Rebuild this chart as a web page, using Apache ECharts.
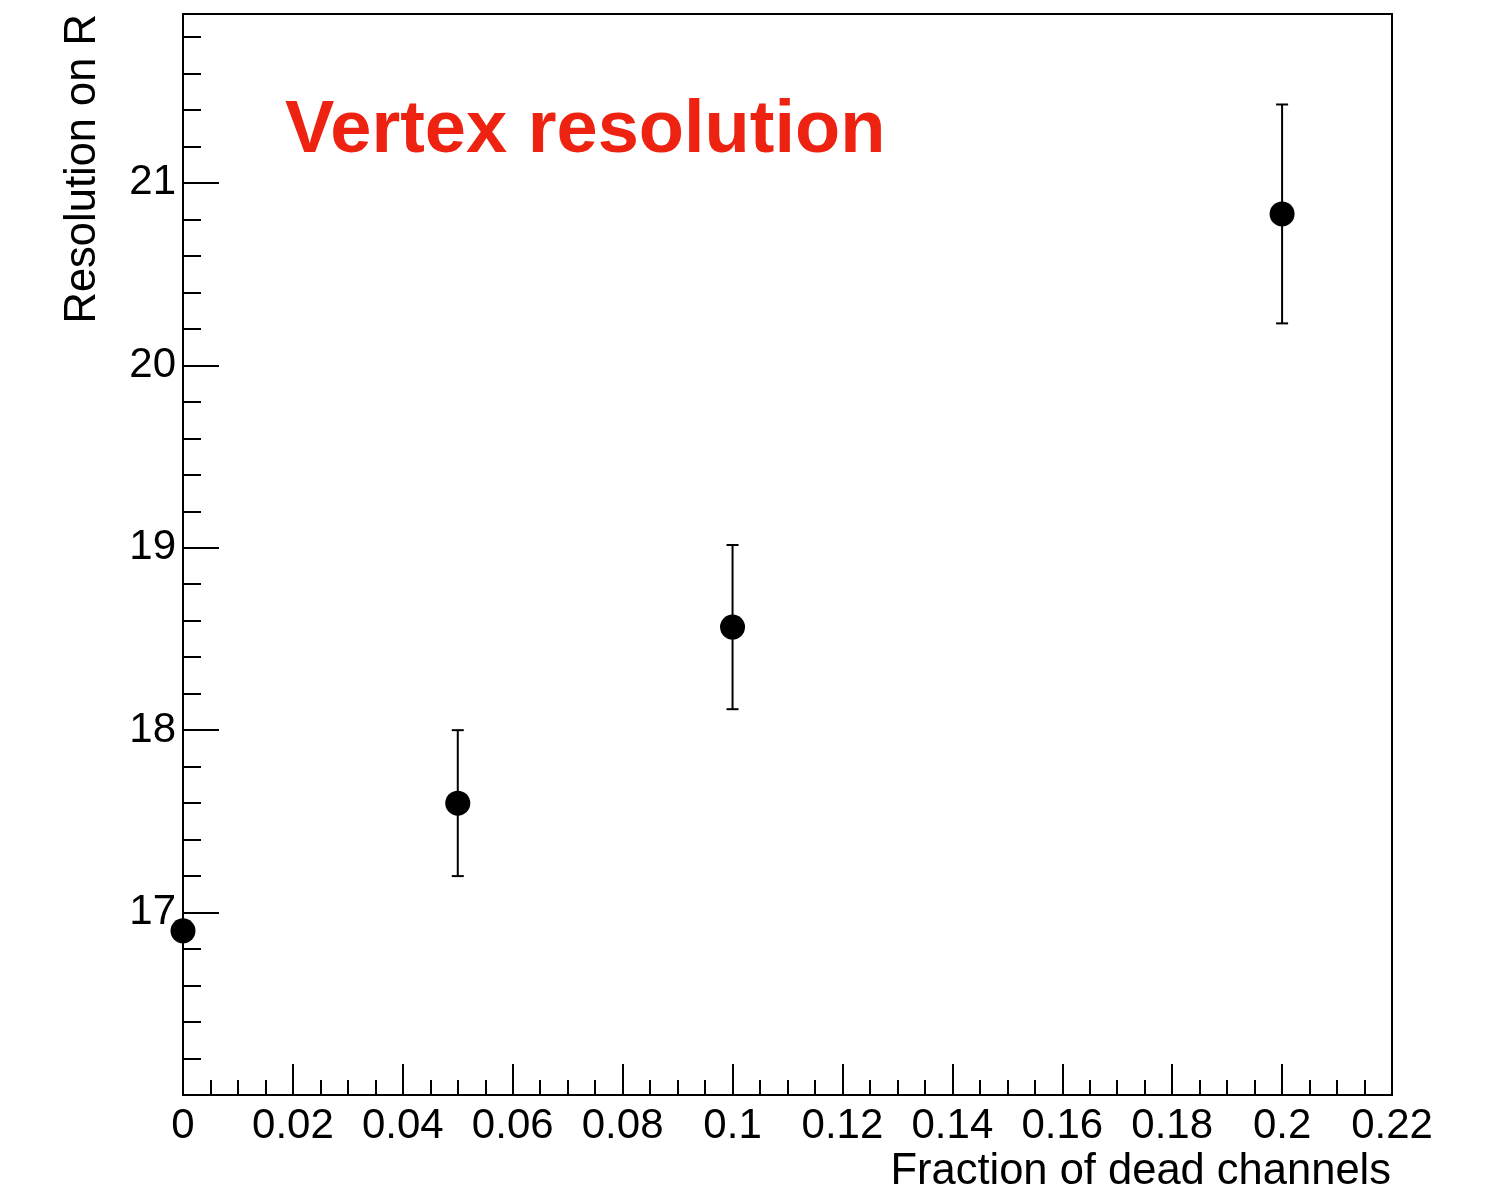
<!DOCTYPE html>
<html>
<head>
<meta charset="utf-8">
<script src="https://cdn.jsdelivr.net/npm/echarts@6/dist/echarts.min.js"></script>
<style>
html,body{margin:0;padding:0;background:#fff;}
#chart{width:1490px;height:1195px;}
</style>
</head>
<body>
<div id="chart"></div>
<script>
// Data
const fractions = [0, 0.05, 0.1, 0.2];
const resolutions = [16.9, 17.6, 18.565, 20.83];
const errors = [0, 0.4, 0.45, 0.6];
const xTitle = 'Fraction of dead channels';
const yTitle = 'Resolution on R';
const plotTitle = 'Vertex resolution';

const FONT = '"Liberation Sans", Arial, Helvetica, sans-serif';
const pts = fractions.map((x, i) => [x, resolutions[i], errors[i]]);

const chart = echarts.init(document.getElementById('chart'), null, {renderer: 'canvas'});
chart.setOption({
  animation: false,
  backgroundColor: '#fff',
  grid: {left: 183, right: 98, top: 14, bottom: 100, show: true, borderColor: '#000', borderWidth: 2, backgroundColor: 'transparent'},
  xAxis: {
    type: 'value', min: 0, max: 0.22, interval: 0.02,
    axisLine: {show: true, onZero: false, lineStyle: {color: '#000', width: 2}},
    axisTick: {show: true, inside: true, length: 31, lineStyle: {color: '#000', width: 2}},
    minorTick: {show: true, splitNumber: 4, length: 15, lineStyle: {color: '#000', width: 2}},
    splitLine: {show: false},
    axisLabel: {color: '#000', fontSize: 42, fontFamily: FONT, margin: 10,
      formatter: v => String(+v.toFixed(2))}
  },
  yAxis: {
    type: 'value', min: 16, max: 21.926, interval: 1,
    axisLine: {show: true, onZero: false, lineStyle: {color: '#000', width: 2}},
    axisTick: {show: true, inside: true, length: 36, lineStyle: {color: '#000', width: 2}},
    minorTick: {show: true, splitNumber: 5, length: 18, lineStyle: {color: '#000', width: 2}},
    splitLine: {show: false},
    axisLabel: {color: '#000', fontSize: 42, fontFamily: FONT, margin: 7, showMaxLabel: false,
      formatter: v => (v === 16 ? '' : String(v))}
  },
  graphic: [
    {type: 'text', left: 285, top: 95, style: {text: plotTitle, fill: '#ee2211', font: 'bold 74px ' + FONT}},
    {type: 'text', x: 1391, y: 1172, style: {text: xTitle, fill: '#000', font: '43.5px ' + FONT, align: 'right', verticalAlign: 'middle'}},
    {type: 'text', x: 83, y: 14, rotation: Math.PI / 2, style: {text: yTitle, fill: '#000', font: '43.5px ' + FONT, align: 'right', verticalAlign: 'middle'}}
  ],
  series: [
    {
      type: 'custom',
      clip: false,
      data: pts,
      renderItem: function (params, api) {
        const x = api.value(0), y = api.value(1), e = api.value(2);
        if (!e) return {type: 'group', children: []};
        const t = api.coord([x, y + e]);
        const b = api.coord([x, y - e]);
        const hw = 6;
        const st = {stroke: '#000', lineWidth: 2};
        return {type: 'group', children: [
          {type: 'line', shape: {x1: t[0], y1: t[1], x2: b[0], y2: b[1]}, style: st},
          {type: 'line', shape: {x1: t[0] - hw, y1: t[1], x2: t[0] + hw, y2: t[1]}, style: st},
          {type: 'line', shape: {x1: b[0] - hw, y1: b[1], x2: b[0] + hw, y2: b[1]}, style: st}
        ]};
      },
      z: 2
    },
    {
      type: 'scatter',
      clip: false,
      data: pts.map(p => [p[0], p[1]]),
      symbol: 'circle',
      symbolSize: 25,
      itemStyle: {color: '#000', opacity: 1},
      z: 3
    }
  ]
});
</script>
</body>
</html>
